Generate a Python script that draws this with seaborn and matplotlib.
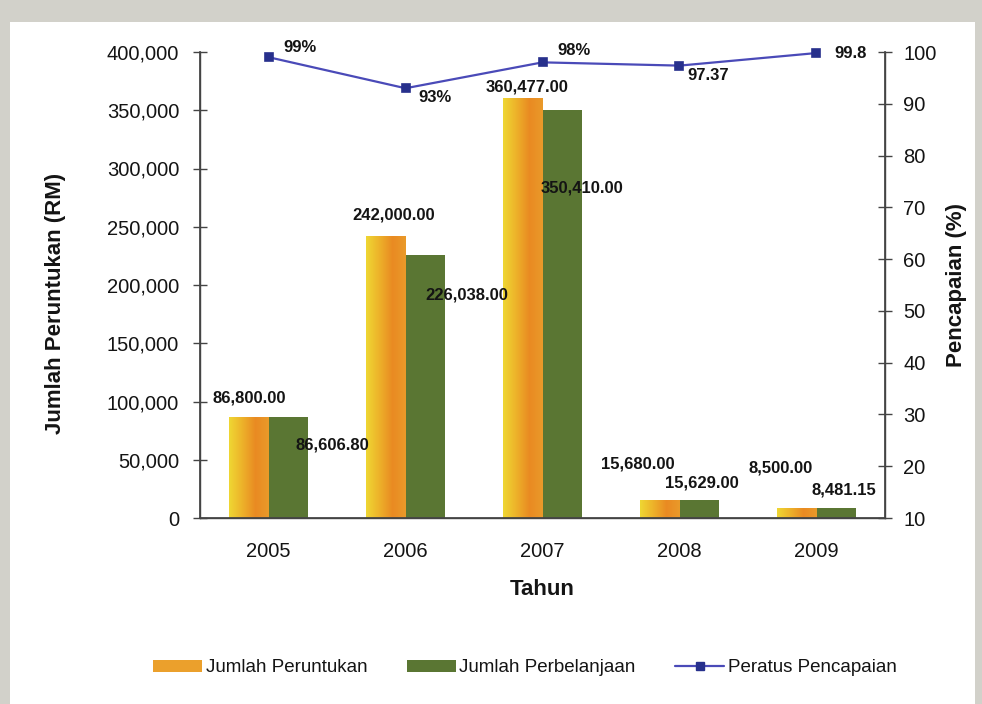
import numpy as np
import pandas as pd
import matplotlib
matplotlib.use("Agg")
import matplotlib.pyplot as plt
import matplotlib.patches as mpatches
from matplotlib.lines import Line2D
from matplotlib.ticker import FuncFormatter, FixedLocator
import seaborn as sns

# --- data ---
years = ["2005", "2006", "2007", "2008", "2009"]
peruntukan = [86800.00, 242000.00, 360477.00, 15680.00, 8500.00]
perbelanjaan = [86606.80, 226038.00, 350410.00, 15629.00, 8481.15]
peratus = [99, 93, 98, 97.37, 99.8]
peratus_labels = ["99%", "93%", "98%", "97.37", "99.8"]

series_names = ["Jumlah Peruntukan", "Jumlah Perbelanjaan"]

df = pd.DataFrame({
    "Tahun": years * 2,
    "Jumlah": peruntukan + perbelanjaan,
    "Siri": [series_names[0]] * len(years) + [series_names[1]] * len(years),
})

sns.set_theme(style="white")
plt.rcParams['font.family'] = ['Liberation Sans', 'DejaVu Sans']

TXT = "#141414"
ORANGE = "#EBA02C"
GREEN = "#5A7633"
LINE = "#4A4AB8"
MARK = "#27308C"

fig = plt.figure(figsize=(9.82, 7.04), dpi=100, facecolor="#D2D1CA")
# white card of the scanned page
fig.patches.append(mpatches.Rectangle((10 / 982, 0), 965 / 982, 1 - 22 / 704,
                                      transform=fig.transFigure, facecolor="white",
                                      edgecolor="none", zorder=-5))

ax = fig.add_axes([200 / 982, 1 - 518 / 704, 685 / 982, 466 / 704])
ax.set_facecolor("none")

sns.barplot(data=df, x="Tahun", y="Jumlah", hue="Siri", order=years,
            hue_order=series_names, palette=[ORANGE, GREEN], width=0.57,
            saturation=1, ax=ax, legend=False)

# gradient fill on orange bars (yellow -> orange)
grad_cmap = matplotlib.colors.LinearSegmentedColormap.from_list(
    "yo", ["#EFD733", "#EDB22A", "#E98A22", "#EA9A2A"])
grad = np.linspace(0, 1, 256).reshape(1, -1)
orange_bars = ax.patches[:len(years)]
for p in orange_bars:
    x0, y0 = p.get_x(), p.get_y()
    w, h = p.get_width(), p.get_height()
    im = ax.imshow(grad, cmap=grad_cmap, aspect="auto",
                   extent=[x0, x0 + w, y0, y0 + h], zorder=p.get_zorder() + 0.1)
    im.set_clip_path(p)
    p.set_edgecolor("none")
for p in ax.patches[len(years):]:
    p.set_edgecolor("none")

ax.set_xlim(-0.5, 4.5)
ax.set_ylim(0, 400000)
ax.yaxis.set_major_locator(FixedLocator(np.arange(0, 400001, 50000)))
ax.yaxis.set_major_formatter(FuncFormatter(lambda v, _: f"{int(v):,}"))
ax.xaxis.set_minor_locator(FixedLocator(np.arange(0.5, 4.0, 1.0)))
ax.tick_params(axis="x", which="major", length=0, labelsize=14.5, colors=TXT, pad=17)
ax.tick_params(axis="x", which="minor", direction="inout", length=10, width=1, color="#444")
ax.tick_params(axis="y", direction="inout", length=10, width=1, color="#444",
               labelsize=14.5, labelcolor=TXT, pad=10, left=True)
for s in ["top"]:
    ax.spines[s].set_visible(False)
for s in ["left", "bottom", "right"]:
    ax.spines[s].set_color("#444")
    ax.spines[s].set_linewidth(1)

ax.set_xlabel("Tahun", fontsize=16, fontweight="bold", color=TXT, labelpad=13)
ax.set_ylabel("Jumlah Peruntukan (RM)", fontsize=16, fontweight="bold", color=TXT)
ax.yaxis.set_label_coords(-0.196, 0.461)

# bar value labels (offsets in pixels, copying the Excel placement)
off_or = [(0, 19), (8, 21), (4, 11), (-22, 36), (-16, 40)]
off_gr = [(44, -28), (42, -40), (20, -78), (3, 17), (8, 18)]
bars_gr = ax.patches[len(years):2 * len(years)]
for p, v, (dx, dy) in zip(orange_bars, peruntukan, off_or):
    ax.annotate(f"{v:,.2f}", (p.get_x() + p.get_width() / 2, v), xytext=(dx, dy),
                textcoords="offset pixels", ha="center", va="center",
                fontsize=12, fontweight="bold", color=TXT, zorder=5)
for p, v, (dx, dy) in zip(bars_gr, perbelanjaan, off_gr):
    ax.annotate(f"{v:,.2f}", (p.get_x() + p.get_width() / 2, v), xytext=(dx, dy),
                textcoords="offset pixels", ha="center", va="center",
                fontsize=12, fontweight="bold", color=TXT, zorder=5)

# --- percentage line on right axis ---
ax2 = ax.twinx()
sns.pointplot(x=years, y=peratus, order=years, ax=ax2, color=LINE, markers="s",
              markersize=6, linewidth=1.6, errorbar=None)
for ln in ax2.lines:
    ln.set_markerfacecolor(MARK)
    ln.set_markeredgecolor(MARK)
    ln.set_clip_on(False)
for coll in ax2.collections:
    coll.set_facecolor(MARK)
    coll.set_edgecolor(MARK)
    coll.set_clip_on(False)
ax2.set_xlim(-0.5, 4.5)
ax2.set_ylim(10, 100)
ax2.yaxis.set_major_locator(FixedLocator(np.arange(10, 101, 10)))
ax2.tick_params(axis="y", direction="inout", length=10, width=1, color="#444",
                labelsize=14.5, labelcolor=TXT, pad=8)
ax2.spines["top"].set_visible(False)
for s in ["left", "bottom", "right"]:
    ax2.spines[s].set_color("#444")
ax2.set_ylabel("Pencapaian (%)", fontsize=16, fontweight="bold", color=TXT, labelpad=7)
ax2.set_xlabel("")

off_pct = [(15, 10), (13, -9), (15, 12), (8, -10), (18, 0)]
for i, (v, lab, (dx, dy)) in enumerate(zip(peratus, peratus_labels, off_pct)):
    ax2.annotate(lab, (i, v), xytext=(dx, dy), textcoords="offset pixels",
                 ha="left", va="center", fontsize=12, fontweight="bold", color=TXT)

# --- legend ---
handles = [
    mpatches.Patch(facecolor=ORANGE, edgecolor="none"),
    mpatches.Patch(facecolor=GREEN, edgecolor="none"),
    Line2D([0], [0], color=LINE, lw=1.6, marker="s", markersize=6,
           markerfacecolor=MARK, markeredgecolor=MARK),
]
fig.legend(handles, series_names + ["Peratus Pencapaian"], loc="center",
           bbox_to_anchor=(525 / 982, 1 - 668 / 704), ncol=3, frameon=False,
           fontsize=13.5, handlelength=2.6, handleheight=0.6, columnspacing=2.1,
           handletextpad=0.2, labelcolor=TXT)

fig.savefig("out.png", dpi=100, facecolor=fig.get_facecolor())
